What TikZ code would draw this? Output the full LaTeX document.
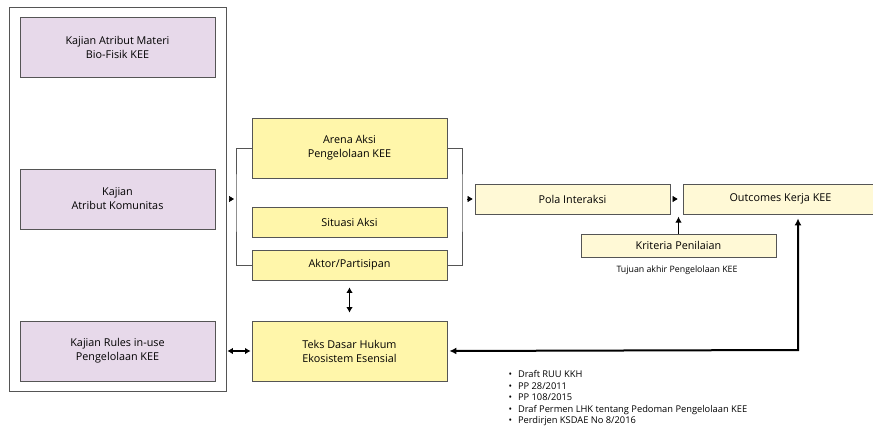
\documentclass[tikz,border=0pt]{standalone}
\usepackage{fontspec}
\setmainfont{Open Sans}
\usetikzlibrary{arrows.meta,positioning,calc,fit}
\definecolor{ungu}{RGB}{231,217,234}
\definecolor{kuning}{RGB}{255,246,170}
\definecolor{krem}{RGB}{255,249,214}
\definecolor{garis}{RGB}{85,85,85}

\tikzset{
  kotak/.style={draw=garis, line width=0.8pt, minimum width=195pt, align=center, font=\fontsize{10.8}{14}\selectfont},
  kajian/.style={kotak, fill=ungu, minimum height=60pt},
  arena/.style={kotak, fill=kuning},
  hasil/.style={kotak, fill=krem},
  ujung/.style={-{Triangle[length=5pt,width=6pt]}, line width=0.6pt},
  dua/.style={{Latex[length=5.5pt,width=6.5pt]}-{Latex[length=5.5pt,width=6.5pt]}, line width=1.4pt}
}

\begin{document}
\begin{tikzpicture}[x=1pt, y=-1pt]
  \useasboundingbox (0,0) rectangle (873,428);
  % kajian (kiri)
  \node[kajian] (bio) at (117.5,47) {Kajian Atribut Materi\\Bio-Fisik KEE};
  \node[kajian] (kom) at (117.5,199) {Kajian\\Atribut Komunitas};
  \node[kajian] (rules) at (117.5,351) {Kajian Rules in-use\\Pengelolaan KEE};
  \node[draw=garis, line width=0.8pt, fit=(bio)(rules), inner xsep=10.5pt, inner ysep=9.5pt] (luar) {};
  % arena aksi
  \node[arena, minimum height=60pt] (arena) at (349.5,148) {Arena Aksi\\Pengelolaan KEE};
  \node[arena, minimum height=30pt] (situasi) at (349.5,222) {Situasi Aksi};
  \node[arena, minimum height=30pt] (aktor) at (349.5,265) {Aktor/Partisipan};
  \node[arena, minimum height=60pt] (teks) at (349.5,351) {Teks Dasar Hukum\\Ekosistem Esensial};
  % hasil
  \node[hasil, minimum height=30pt] (pola) at (572.5,199) {Pola Interaksi};
  \node[hasil, minimum height=30pt] (outcomes) at (780.5,199) {Outcomes Kerja KEE};
  \node[hasil, minimum height=23pt] (kriteria) at (678.5,245.5) {Kriteria Penilaian};
  \node[font=\fontsize{8.8}{10}\selectfont] (tujuan) at (677,270) {Tujuan akhir Pengelolaan KEE};
  \node[anchor=north west, align=left, font=\fontsize{9.3}{11.5}\selectfont] (dasar) at (505,367)
    {\textbullet\hspace{6pt}Draft RUU KKH\\
     \textbullet\hspace{6pt}PP 28/2011\\
     \textbullet\hspace{6pt}PP 108/2015\\
     \textbullet\hspace{6pt}Draf Permen LHK tentang Pedoman Pengelolaan KEE\\
     \textbullet\hspace{6pt}Perdirjen KSDAE No 8/2016};

  % kurung arena
  \coordinate (kiri) at (236,199); \coordinate (kanan) at (462,199);
  \draw[garis, line width=0.8pt] (arena.west) -| (kiri) |- (aktor.west);
  \draw[garis, line width=0.8pt] (arena.east) -| (kanan) |- (aktor.east);
  \draw[ujung, shorten <=4pt, shorten >=2pt] (luar.east |- kiri) -- (kiri);
  \draw[ujung, shorten <=5pt, shorten >=2pt] (kanan) -- (pola.west);
  \draw[ujung, shorten <=3pt, shorten >=5pt] (pola.east) -- (outcomes.west);
  \draw[-{Latex[length=6pt,width=6.5pt]}, line width=1.6pt] (kriteria.north) -- ++(0,-17);

  % panah dua arah
  \draw[dua, shorten <=7pt, shorten >=8pt] (aktor.south) -- (teks.north);
  \draw[dua, shorten <=1pt, shorten >=1pt] (luar.east |- teks) -- (teks.west);
  \coordinate (sudut) at (798,350);
  \draw[{Latex[length=7pt,width=7pt]}-{Latex[length=7pt,width=7pt]}, line width=2pt, shorten <=2pt, shorten >=4pt]
    (teks.east) -- (sudut) -- (sudut |- outcomes.south);
\end{tikzpicture}
\end{document}
